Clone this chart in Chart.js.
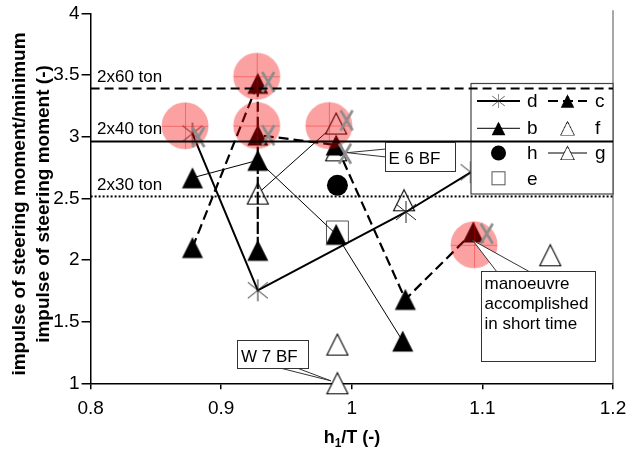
<!DOCTYPE html>
<html><head><meta charset="utf-8">
<script src="https://cdn.jsdelivr.net/npm/chart.js@4/dist/chart.umd.min.js"></script>
<style>html,body{margin:0;padding:0;background:#fff}#wrap{width:636px;height:455px}</style>
</head><body><div id="wrap"><canvas id="c" width="636" height="455"></canvas></div>
<script>
// ---- data ----
const xTicks = [0.8, 0.9, 1.0, 1.1, 1.2];
const xTickLabels = ['0.8', '0.9', '1', '1.1', '1.2'];
const yTicks = [1, 1.5, 2, 2.5, 3, 3.5, 4];
const yTickLabels = ['1', '1.5', '2', '2.5', '3', '3.5', '4'];

const dX = [0.878, 0.928, 1.0415, 1.091];
const dY = [3.025, 1.754, 2.389, 2.711];
const cX = [0.878, 0.928, 0.928, 0.928, 0.988, 1.041, 1.093];
const cY = [2.101, 3.432, 2.078, 3.013, 2.932, 1.680, 2.227];
const bX = [0.878, 0.928, 0.988, 1.039];
const bY = [2.666, 2.808, 2.208, 1.342];
const fX = [0.988, 1.040, 1.152, 0.989, 0.989];
const fY = [2.889, 2.484, 2.038, 1.314, 1.000];
const gX = [0.928, 0.988];
const gY = [2.538, 3.106];
const hX = [0.989];
const hY = [2.605];
const eX = [0.989];
const eY = [2.227];
const aX = [0.8825, 0.936, 0.936, 0.996, 0.9948, 1.1033];   // grey crosses
const aY = [2.997, 3.443, 3.011, 3.132, 2.862, 2.214];
const pX = [0.8723, 0.9272, 0.9272, 0.9824, 1.0936];         // red highlight circles
const pY = [3.088, 3.490, 3.090, 3.090, 2.123];

const limitValues = [3.39, 2.96, 2.515];
const limitLabels = ['2x60 ton', '2x40 ton', '2x30 ton'];

const FONT = '"Liberation Sans", Arial, Helvetica, sans-serif';

// ---- marker images ----
function mk(w, h, fn) { const c = document.createElement('canvas'); c.width = w; c.height = h; fn(c.getContext('2d'), w, h); return c; }
const triFilled = mk(24, 24, (g) => { g.beginPath(); g.moveTo(12, 1.5); g.lineTo(22.5, 22.5); g.lineTo(1.5, 22.5); g.closePath(); g.fillStyle = '#000'; g.fill(); });
const triOpen = mk(24, 24, (g) => { g.beginPath(); g.moveTo(12, 1.5); g.lineTo(22.5, 22.5); g.lineTo(1.5, 22.5); g.closePath(); g.fillStyle = '#fff'; g.fill(); g.strokeStyle = '#000'; g.lineWidth = 1.1; g.stroke(); });
const asterisk = mk(24, 26, (g) => { g.strokeStyle = '#222'; g.lineWidth = 1; g.beginPath(); g.moveTo(12, 2); g.lineTo(12, 24); g.moveTo(2, 5); g.lineTo(22, 21); g.moveTo(2, 21); g.lineTo(22, 5); g.stroke(); });
const greyX = mk(20, 24, (g) => { g.strokeStyle = '#8c8c8c'; g.lineWidth = 2.6; g.beginPath(); g.moveTo(4, 2); g.lineTo(16, 22); g.moveTo(16, 2); g.lineTo(4, 22); g.stroke(); });
const pinkC = mk(50, 50, (g) => { g.beginPath(); g.arc(25, 25, 23.5, 0, Math.PI * 2); g.fillStyle = 'rgba(245,0,0,0.37)'; g.fill(); g.strokeStyle = 'rgba(230,0,0,0.35)'; g.lineWidth = 1; g.beginPath(); g.moveTo(2, 25.5); g.lineTo(48, 25.5); g.moveTo(25.5, 2); g.lineTo(25.5, 48); g.stroke(); });

const pts = (xs, ys) => xs.map((x, i) => ({ x: x, y: ys[i] }));

const datasets = [
  { label: 'a', data: pts(aX, aY), showLine: false, pointStyle: greyX, pointRadius: 10 },
  { label: 'p', data: pts(pX, pY), showLine: false, pointStyle: pinkC, pointRadius: 23 },
  { label: 'd', data: pts(dX, dY), showLine: true, borderColor: '#000', borderWidth: 2, pointStyle: asterisk, pointRadius: 11 },
  { label: 'c', data: pts(cX, cY), showLine: true, borderColor: '#000', borderWidth: 2.2, borderDash: [10, 5], pointStyle: triFilled, pointRadius: 11 },
  { label: 'b', data: pts(bX, bY), showLine: true, borderColor: '#000', borderWidth: 1, pointStyle: triFilled, pointRadius: 11 },
  { label: 'g', data: pts(gX, gY), showLine: true, borderColor: '#000', borderWidth: 1, pointStyle: triOpen, pointRadius: 11 },
  { label: 'f', data: pts(fX, fY), showLine: false, pointStyle: triOpen, pointRadius: 11 },
  { label: 'h', data: pts(hX, hY), showLine: false, pointStyle: 'circle', pointRadius: 10.5, pointBackgroundColor: '#000', pointBorderColor: '#000', pointBorderWidth: 0 },
  { label: 'e', data: pts(eX, eY), showLine: false, pointStyle: 'rect', pointRadius: 15.5, pointBackgroundColor: 'rgba(0,0,0,0)', pointBorderColor: '#555', pointBorderWidth: 1 }
];
datasets.forEach(ds => { ds.fill = false; ds.tension = 0; ds.clip = false; });

function drawLegendMarker(ctx, img, x, y, s) {
  const w = img.width * s, h = img.height * s;
  ctx.drawImage(img, x - w / 2, y - h / 2, w, h);
}

const overlay = {
  id: 'overlay',
  afterDatasetsDraw(chart) {
    const ctx = chart.ctx, xs = chart.scales.x, ys = chart.scales.y, ca = chart.chartArea;
    ctx.save();
    // right border
    ctx.strokeStyle = '#8a8a8a'; ctx.lineWidth = 1.5;
    ctx.beginPath(); ctx.moveTo(ca.right, ca.top - 3); ctx.lineTo(ca.right, ca.bottom); ctx.stroke();

    // legend box
    const L = 471, T = 83.5, R = ca.right, B = 194;
    ctx.fillStyle = '#fff'; ctx.fillRect(L, T, R - L, B - T);
    ctx.strokeStyle = '#444'; ctx.lineWidth = 1.2; ctx.strokeRect(L, T, R - L, B - T);
    ctx.font = '19px ' + FONT; ctx.fillStyle = '#000'; ctx.textBaseline = 'alphabetic'; ctx.textAlign = 'left';
    const c1 = 498.5, c2 = 567.5, t1 = 527, t2 = 595;
    const r1 = 101, r2 = 128.3, r3 = 153, r4 = 178.3;
    function line(x0, x1, y, w, dash) { ctx.save(); ctx.strokeStyle = '#000'; ctx.lineWidth = w; ctx.setLineDash(dash || []); ctx.beginPath(); ctx.moveTo(x0, y); ctx.lineTo(x1, y); ctx.stroke(); ctx.restore(); }
    line(477, 520, r1, 2); drawLegendMarker(ctx, asterisk, c1, r1, 0.65); ctx.fillText('d', t1, r1 + 6);
    line(548, 587, r1, 2.2, [10, 5]); drawLegendMarker(ctx, triFilled, c2, r1, 0.65); ctx.fillText('c', t2, r1 + 6);
    line(477, 520, r2, 1); drawLegendMarker(ctx, triFilled, c1, r2, 0.65); ctx.fillText('b', t1, r2 + 6);
    drawLegendMarker(ctx, triOpen, c2, r2, 0.65); ctx.fillText('f', t2, r2 + 6);
    ctx.beginPath(); ctx.arc(c1, r3, 7.5, 0, Math.PI * 2); ctx.fillStyle = '#000'; ctx.fill(); ctx.fillText('h', t1, r3 + 6);
    line(548, 587, r3, 1); drawLegendMarker(ctx, triOpen, c2, r3, 0.65); ctx.fillStyle = '#000'; ctx.fillText('g', t2, r3 + 6);
    ctx.strokeStyle = '#555'; ctx.lineWidth = 1; ctx.strokeRect(c1 - 6.5, r4 - 6.5, 13, 13); ctx.fillText('e', t1, r4 + 7);

    // limit lines
    const dashes = [[9, 5], [], [2, 2]];
    limitValues.forEach((v, i) => {
      const y = ys.getPixelForValue(v);
      ctx.save(); ctx.strokeStyle = '#000'; ctx.lineWidth = 2; ctx.setLineDash(dashes[i]);
      ctx.beginPath(); ctx.moveTo(ca.left, y); ctx.lineTo(ca.right, y); ctx.stroke(); ctx.restore();
    });
    ctx.font = '17px ' + FONT; ctx.fillStyle = '#000';
    ctx.fillText(limitLabels[0], 97, ys.getPixelForValue(limitValues[0]) - 6.5);
    ctx.fillText(limitLabels[1], 97, ys.getPixelForValue(limitValues[1]) - 7.5);
    ctx.fillText(limitLabels[2], 97, ys.getPixelForValue(limitValues[2]) - 6.5);

    // callouts
    function callout(bx, by, bw, bh, tip, a, b, lines) {
      ctx.save();
      ctx.fillStyle = '#fff'; ctx.strokeStyle = '#333'; ctx.lineWidth = 1;
      ctx.beginPath(); ctx.moveTo(a[0], a[1]); ctx.lineTo(tip[0], tip[1]); ctx.lineTo(b[0], b[1]); ctx.closePath(); ctx.fill(); ctx.stroke();
      ctx.fillRect(bx, by, bw, bh); ctx.strokeRect(bx, by, bw, bh);
      ctx.fillStyle = '#000'; ctx.font = '17px ' + FONT;
      lines.forEach((t) => ctx.fillText(t[0], t[1], t[2]));
      ctx.restore();
    }
    const e6 = [xs.getPixelForValue(0.9965), ys.getPixelForValue(2.87)];
    callout(385.5, 142.5, 70, 29, e6, [386, 149], [386, 157], [['E 6 BF', 388.5, 163.5]]);
    const w7 = [xs.getPixelForValue(0.984), ys.getPixelForValue(1.02)];
    callout(237.5, 340.5, 71, 28, w7, [280, 368], [297, 368], [['W 7 BF', 241, 362]]);
    const mn = [xs.getPixelForValue(1.0925), ys.getPixelForValue(2.16)];
    callout(481.5, 271.5, 114, 90, mn, [497, 272], [530, 272], [['manoeuvre', 484.5, 288.5], ['accomplished', 484.5, 309], ['in short time', 484.5, 329]]);

    // axis titles
    ctx.fillStyle = '#000';
    ctx.font = 'bold 19px ' + FONT; ctx.textAlign = 'center';
    ctx.save(); ctx.translate(20, 204); ctx.rotate(-Math.PI / 2); ctx.textBaseline = 'middle';
    ctx.fillText('impulse of steering moment/minimum', 0, 0);
    ctx.fillText('impulse of steering moment (-)', 0, 23.5);
    ctx.restore();
    // x title  h1/T (-)
    ctx.textAlign = 'left'; ctx.textBaseline = 'alphabetic';
    const f1 = 'bold 18px ' + FONT, f2 = 'bold 12px ' + FONT;
    ctx.font = f1; const wh = ctx.measureText('h').width; const wr = ctx.measureText('/T (-)').width;
    ctx.font = f2; const ws = ctx.measureText('1').width;
    let x0 = 352 - (wh + ws + wr) / 2, yb = 443;
    ctx.font = f1; ctx.fillText('h', x0, yb);
    ctx.font = f2; ctx.fillText('1', x0 + wh, yb + 4);
    ctx.font = f1; ctx.fillText('/T (-)', x0 + wh + ws, yb);
    ctx.restore();
  }
};

new Chart(document.getElementById('c'), {
  type: 'scatter',
  data: { datasets: datasets },
  options: {
    responsive: false, animation: false, devicePixelRatio: 1,
    layout: { autoPadding: false, padding: { top: 13.3, right: 23, left: 0, bottom: 0 } },
    plugins: { legend: { display: false }, tooltip: { enabled: false } },
    scales: {
      x: {
        type: 'linear', min: 0.8, max: 1.2,
        afterBuildTicks: s => { s.ticks = xTicks.map(v => ({ value: v })); },
        afterFit: s => { s.height = 71.7; s.paddingLeft = 0; s.paddingRight = 0; },
        ticks: { autoSkip: false, maxRotation: 0, padding: 8, color: '#000', font: { family: FONT, size: 19 },
          callback: (v, i) => xTickLabels[i] },
        grid: { drawOnChartArea: false, drawTicks: true, tickLength: 6, color: '#000', lineWidth: 1.5 },
        border: { display: true, color: '#000', width: 1.5 }
      },
      y: {
        type: 'linear', min: 1, max: 4,
        afterBuildTicks: s => { s.ticks = yTicks.map(v => ({ value: v })); },
        afterFit: s => { s.width = 90.6; s.paddingTop = 0; s.paddingBottom = 0; },
        ticks: { autoSkip: false, padding: 2, color: '#000', font: { family: FONT, size: 19 },
          callback: (v, i) => yTickLabels[i] },
        grid: { drawOnChartArea: false, drawTicks: true, tickLength: 9, color: '#000', lineWidth: 1.5 },
        border: { display: true, color: '#000', width: 1.5 }
      }
    }
  },
  plugins: [overlay]
});
</script>
</body></html>
